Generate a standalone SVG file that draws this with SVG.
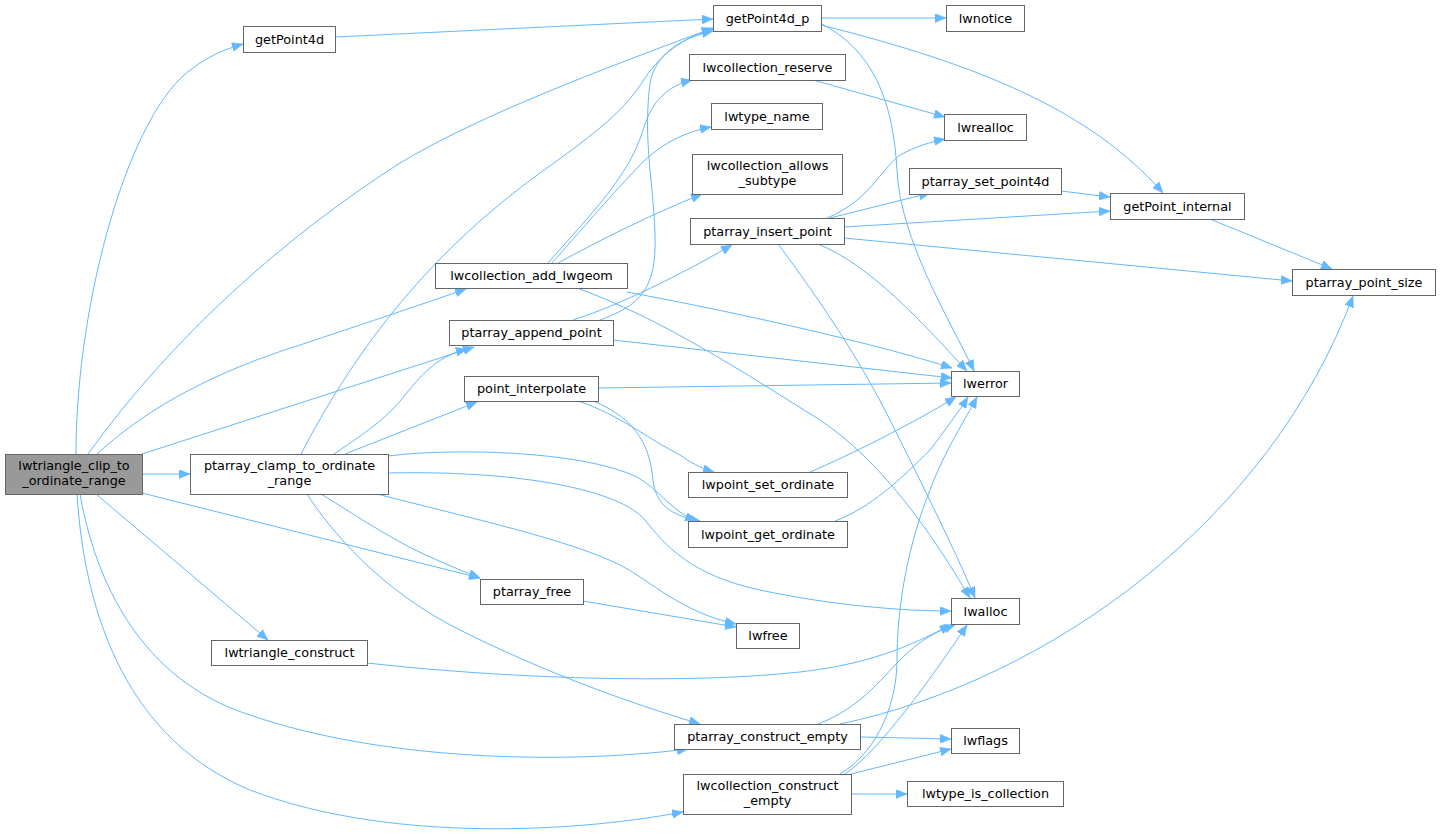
<svg xmlns="http://www.w3.org/2000/svg" width="1440" height="838" viewBox="0 0 1440 838">
<style>
.n rect{fill:#ffffff;stroke:#666666;stroke-width:1}
.n text{font-family:"DejaVu Sans","Liberation Sans",sans-serif;font-size:12.8px;fill:#000000;text-anchor:middle}
#n_root rect{fill:#999999}
.e path{fill:none;stroke:#63b8ff;stroke-width:1;marker-end:url(#ah)}
</style>
<defs>
<marker id="ah" markerUnits="userSpaceOnUse" markerWidth="12" markerHeight="9" refX="11" refY="4.5" orient="auto">
<path d="M0,0 L11,4.5 L0,9 z" fill="#63b8ff" stroke="#63b8ff" stroke-width="0.5"/>
</marker>
</defs>
<rect width="1440" height="838" fill="#ffffff"/>
<g class="e" id="edges">
<path d="M76,454 C 76,300 130,110 193,68 C 208,57 222,50 243,44"/>
<path d="M88,454 C 170,340 280,240 400,163 C 480,115 600,70 713,28"/>
<path d="M97,454 C 150,405 220,370 300,345 C 360,325 420,305 466,289"/>
<path d="M142,454 L 474,347"/>
<path d="M142,474 L 190,474"/>
<path d="M142,493 L 480,578"/>
<path d="M96,494 L 268,640"/>
<path d="M80,494 C 95,580 140,680 250,715 C 380,760 560,765 688,749"/>
<path d="M77,494 C 85,620 130,740 250,790 C 380,840 560,835 683,812"/>
<path d="M301,454 C 350,360 420,260 540,173 C 600,130 625,110 645,78 C 665,48 690,36 713,29"/>
<path d="M334,454 C 370,430 390,415 405,395 C 425,370 440,356 467,349"/>
<path d="M345,454 L 477,402"/>
<path d="M388,456 C 450,448 580,450 637,477 C 660,490 670,510 696,521"/>
<path d="M388,473 C 520,470 620,490 645,520 C 665,545 690,575 760,590 C 830,605 900,611 951,611"/>
<path d="M377,494 C 470,518 570,540 620,565 C 650,580 680,612 736,624"/>
<path d="M321,494 C 360,518 400,545 437,560 C 450,566 465,572 480,578"/>
<path d="M307,494 C 330,530 380,590 460,630 C 540,670 620,700 700,724"/>
<path d="M335,37 L 713,19"/>
<path d="M821,18 L 946,18"/>
<path d="M820,23 C 873,50 893,100 897,170 C 900,240 950,320 974,371"/>
<path d="M821,25 C 980,65 1090,110 1163,193"/>
<path d="M548,263 C 590,215 630,175 643,130 C 652,100 668,86 692,80"/>
<path d="M552,263 C 590,220 620,185 645,160 C 665,142 685,132 711,127"/>
<path d="M558,263 C 600,240 650,215 702,194"/>
<path d="M627,292 C 750,315 880,345 952,368"/>
<path d="M577,288 C 660,318 740,370 820,420 C 880,460 930,530 970,598"/>
<path d="M600,320 C 640,305 657,290 655,233 C 653,180 643,140 650,83 C 655,55 680,38 713,31"/>
<path d="M573,320 C 620,305 680,275 732,245"/>
<path d="M613,340 L 952,378"/>
<path d="M598,388 L 951,383"/>
<path d="M578,401 C 620,415 650,440 680,455 C 690,462 700,468 714,472"/>
<path d="M593,401 C 640,420 650,450 653,480 C 656,505 670,515 700,521"/>
<path d="M813,80 L 945,117"/>
<path d="M827,218 C 870,200 880,170 900,155 C 915,147 930,142 945,139"/>
<path d="M830,218 L 930,193"/>
<path d="M1061,191 L 1110,197"/>
<path d="M844,227 L 1110,211"/>
<path d="M844,238 L 1292,281"/>
<path d="M818,244 C 870,265 920,320 967,371"/>
<path d="M778,244 C 820,300 860,360 890,420 C 920,480 955,550 975,598"/>
<path d="M1210,219 L 1332,269"/>
<path d="M810,472 C 850,455 910,425 956,397"/>
<path d="M835,521 C 870,508 900,480 930,450 C 945,430 960,410 968,397"/>
<path d="M583,601 L 736,627"/>
<path d="M367,663 C 500,678 680,685 800,672 C 880,663 920,640 951,625"/>
<path d="M818,724 C 860,708 880,680 900,660 C 920,640 935,632 955,625"/>
<path d="M840,724 C 1050,680 1270,520 1353,296"/>
<path d="M860,737 L 951,739"/>
<path d="M845,774 C 880,750 930,680 967,625"/>
<path d="M840,774 C 880,750 897,700 897,660 C 897,600 910,540 930,490 C 945,450 965,420 977,397"/>
<path d="M851,774 L 951,749"/>
<path d="M851,794 L 907,794"/>
</g>
<g class="n" id="n_root"><rect x="5.5" y="454.5" width="137" height="40"/><text x="74" y="470">lwtriangle_clip_to</text><text x="74" y="485">_ordinate_range</text></g>
<g class="n" id="n_clamp"><rect x="190.5" y="454.5" width="198" height="40"/><text x="289.5" y="470">ptarray_clamp_to_ordinate</text><text x="289.5" y="485">_range</text></g>
<g class="n" id="n_getPoint4d"><rect x="243.5" y="26.5" width="92" height="26"/><text x="289.5" y="43.5">getPoint4d</text></g>
<g class="n" id="n_getPoint4d_p"><rect x="713.5" y="5.5" width="108" height="26"/><text x="767.5" y="22.5">getPoint4d_p</text></g>
<g class="n" id="n_lwnotice"><rect x="946.5" y="5.5" width="78" height="26"/><text x="985.5" y="22.5">lwnotice</text></g>
<g class="n" id="n_reserve"><rect x="689.5" y="54.5" width="156" height="26"/><text x="767.5" y="71.5">lwcollection_reserve</text></g>
<g class="n" id="n_typename"><rect x="711.5" y="103.5" width="111" height="26"/><text x="767" y="120.5">lwtype_name</text></g>
<g class="n" id="n_allows"><rect x="692.5" y="154.5" width="150" height="40"/><text x="767.5" y="170">lwcollection_allows</text><text x="767.5" y="185">_subtype</text></g>
<g class="n" id="n_insert"><rect x="690.5" y="218.5" width="154" height="26"/><text x="767.5" y="235.5">ptarray_insert_point</text></g>
<g class="n" id="n_lwrealloc"><rect x="944.5" y="114.5" width="82" height="26"/><text x="985.5" y="131.5">lwrealloc</text></g>
<g class="n" id="n_setpoint4d"><rect x="909.5" y="168.5" width="152" height="26"/><text x="985.5" y="185.5">ptarray_set_point4d</text></g>
<g class="n" id="n_getPoint_internal"><rect x="1110.5" y="193.5" width="134" height="26"/><text x="1177.5" y="210.5">getPoint_internal</text></g>
<g class="n" id="n_pointsize"><rect x="1292.5" y="269.5" width="143" height="26"/><text x="1364" y="286.5">ptarray_point_size</text></g>
<g class="n" id="n_addlwgeom"><rect x="435.5" y="263.5" width="192" height="25"/><text x="531.5" y="280">lwcollection_add_lwgeom</text></g>
<g class="n" id="n_append"><rect x="449.5" y="320.5" width="164" height="25"/><text x="531.5" y="337">ptarray_append_point</text></g>
<g class="n" id="n_interp"><rect x="464.5" y="376.5" width="134" height="25"/><text x="531.5" y="393">point_interpolate</text></g>
<g class="n" id="n_setord"><rect x="688.5" y="472.5" width="159" height="25"/><text x="768" y="489">lwpoint_set_ordinate</text></g>
<g class="n" id="n_getord"><rect x="688.5" y="521.5" width="159" height="26"/><text x="768" y="538.5">lwpoint_get_ordinate</text></g>
<g class="n" id="n_lwerror"><rect x="951.5" y="371.5" width="68" height="25"/><text x="985.5" y="388">lwerror</text></g>
<g class="n" id="n_lwalloc"><rect x="951.5" y="598.5" width="68" height="26"/><text x="985.5" y="615.5">lwalloc</text></g>
<g class="n" id="n_ptfree"><rect x="480.5" y="579.5" width="103" height="25"/><text x="532" y="596">ptarray_free</text></g>
<g class="n" id="n_triconstruct"><rect x="211.5" y="640.5" width="156" height="25"/><text x="289.5" y="657">lwtriangle_construct</text></g>
<g class="n" id="n_lwfree"><rect x="736.5" y="623.5" width="63" height="25"/><text x="768" y="640">lwfree</text></g>
<g class="n" id="n_ptconstruct"><rect x="674.5" y="724.5" width="186" height="25"/><text x="767.5" y="741">ptarray_construct_empty</text></g>
<g class="n" id="n_lwflags"><rect x="951.5" y="728.5" width="68" height="25"/><text x="985.5" y="745">lwflags</text></g>
<g class="n" id="n_colconstruct"><rect x="683.5" y="774.5" width="168" height="40"/><text x="767.5" y="790">lwcollection_construct</text><text x="767.5" y="805">_empty</text></g>
<g class="n" id="n_iscollection"><rect x="907.5" y="781.5" width="156" height="25"/><text x="985.5" y="798">lwtype_is_collection</text></g>
</svg>
